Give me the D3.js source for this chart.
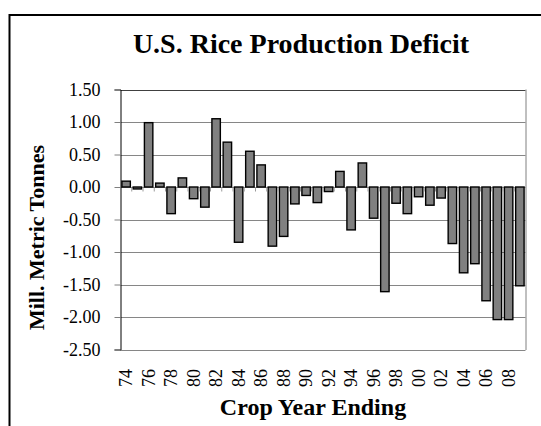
<!DOCTYPE html>
<html><head><meta charset="utf-8">
<script src="https://cdn.jsdelivr.net/npm/d3@7"></script>
<style>
body{margin:0;background:#fff;}
svg{display:block;}
svg text{font-family:"Liberation Serif","Times New Roman",serif !important;fill:#000;}
</style></head>
<body>
<svg id="c" width="541" height="426"></svg>
<script>
const years = ["74","75","76","77","78","79","80","81","82","83","84","85","86","87","88","89","90","91","92","93","94","95","96","97","98","99","00","01","02","03","04","05","06","07","08","09"];
const deficit = [0.09,-0.03,0.99,0.06,-0.41,0.14,-0.18,-0.31,1.05,0.69,-0.85,0.55,0.34,-0.91,-0.76,-0.26,-0.13,-0.24,-0.07,0.24,-0.66,0.37,-0.48,-1.61,-0.25,-0.41,-0.15,-0.28,-0.17,-0.87,-1.32,-1.18,-1.75,-2.04,-2.04,-1.52];
const yTicks = [1.5,1.0,0.5,0,-0.5,-1.0,-1.5,-2.0,-2.5];
const xLabels = ["74","76","78","80","82","84","86","88","90","92","94","96","98","00","02","04","06","08"];
const title = "U.S. Rice Production Deficit";
const xTitle = "Crop Year Ending";
const yTitle = "Mill. Metric Tonnes";

const FONT = '"Liberation Serif","Times New Roman",serif';
const svg = d3.select("#c").attr("font-family", FONT);
const L = 120.5, R = 525.5, T = 89.5, B = 349.5;

// frame
svg.append("path").attr("d", `M9.5,${426+5} L9.5,15 L${541+5},15`).attr("fill","none").attr("stroke","#000").attr("stroke-width",2);

const x = d3.scaleBand().domain(years).range([L, R]).paddingInner(0.25).paddingOuter(0.125);
const y = d3.scaleLinear().domain([-2.5, 1.5]).range([B, T]);

// gridlines
svg.append("g").selectAll("line").data(yTicks).join("line")
  .attr("x1", L).attr("x2", R)
  .attr("y1", d => Math.round(y(d)) + 0.5).attr("y2", d => Math.round(y(d)) + 0.5)
  .attr("stroke", d => d === 1.5 ? "#404040" : "#868686").attr("stroke-width", 1);
// right border
svg.append("line").attr("x1", R+0.5).attr("x2", R+0.5).attr("y1", T).attr("y2", B+0.5).attr("stroke","#808080");

// y axis
const yAxis = d3.axisLeft(y).tickValues(yTicks).tickFormat(d3.format(".2f")).tickSize(6).tickPadding(14);
const gy = svg.append("g").attr("transform", `translate(${L},0)`).call(yAxis);
gy.attr("font-family", FONT).attr("font-size", 18);
gy.select(".domain").attr("stroke","#000");
gy.selectAll(".tick line").attr("stroke","#808080");
gy.selectAll(".tick text").style("font-family", FONT).style("font-size","18px").attr("fill","#000")
  .text(d => d3.format(".2f")(d).replace("−","-"));

// bars
svg.append("g").selectAll("rect").data(deficit).join("rect")
  .attr("x", (d,i) => x(years[i]))
  .attr("width", x.bandwidth())
  .attr("y", d => y(Math.max(0,d)))
  .attr("height", d => Math.abs(y(d) - y(0)))
  .attr("fill","#808080").attr("stroke","#000").attr("stroke-width",1.4);

// category axis at zero with ticks at boundaries
const step = x.step();
const bounds = d3.range(1, years.length).map(i => x(years[i]) - (step - x.bandwidth())/2);
const y0 = Math.round(y(0)) + 0.5;
svg.append("g").selectAll("line").data(bounds).join("line")
  .attr("x1", d => d).attr("x2", d => d).attr("y1", y0).attr("y2", y0 + 4)
  .attr("stroke","#9a9a9a");

// x tick labels
svg.append("g").selectAll("text").data(xLabels).join("text")
  .attr("transform", d => `translate(${x(d) + x.bandwidth()/2},369) rotate(-90)`)
  .attr("text-anchor","end").attr("dy","0.35em")
  .style("font-family", FONT).style("font-size","18px").text(d => d);

// titles
svg.append("text").attr("x", 301).attr("y", 53).attr("text-anchor","middle")
  .style("font-family", FONT).style("font-size","28px").style("font-weight","bold").text(title);
svg.append("text").attr("x", 313).attr("y", 415).attr("text-anchor","middle")
  .style("font-family", FONT).style("font-size","24px").style("font-weight","bold").text(xTitle);
svg.append("text").attr("transform","translate(44,237.5) rotate(-90)").attr("text-anchor","middle")
  .style("font-family", FONT).style("font-size","22px").style("font-weight","bold").text(yTitle);
</script>
</body></html>
